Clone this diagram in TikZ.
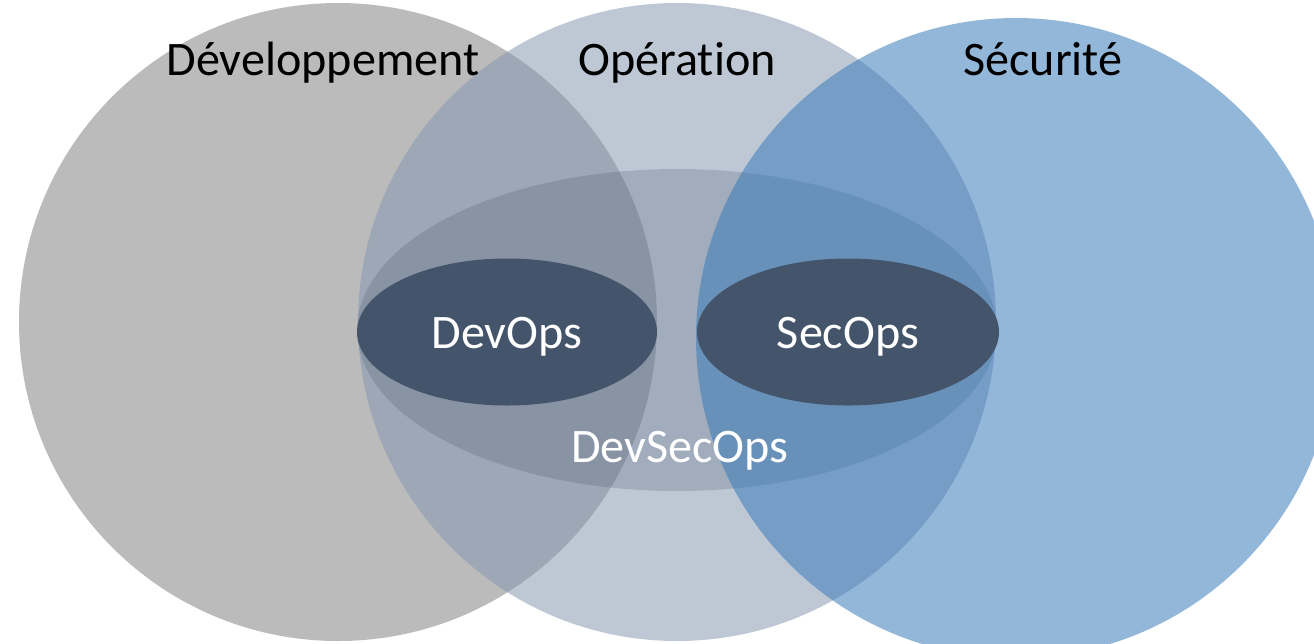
\documentclass[tikz,border=0pt]{standalone}
\usepackage{fontspec}
\setmainfont[Ligatures=NoCommon]{Carlito}
\definecolor{devgray}{HTML}{BBBBBB}
\definecolor{opgray}{HTML}{8497B0}
\definecolor{secblue}{HTML}{3A7BBA}
\definecolor{opsdark}{HTML}{44546A}
\tikzset{
  areaname/.style={font=\fontsize{27.4}{32}\selectfont,anchor=base,inner sep=0pt,text=black},
  opsname/.style={font=\fontsize{27.4}{32}\selectfont,anchor=base,inner sep=0pt,text=white}
}
\begin{document}
\begin{tikzpicture}[x=0.02cm,y=-0.02cm]
\useasboundingbox (0,0) rectangle (1314,643);
\clip (0,0) rectangle (1314,643);
% the three domains
\fill[devgray] (338,322) circle (319);
\fill[opgray,opacity=0.53] (677,322) circle (319);
% DevSecOps band
\fill[opsdark,opacity=0.23] (677,330) ellipse (320 and 161);
\fill[secblue,opacity=0.55] (1016,338) circle (320);
% DevOps and SecOps
\fill[opsdark] (507,332) ellipse (150 and 73.5);
\fill[opsdark] (848,332) ellipse (151 and 73.5);
\node[areaname] (dev) at (323,75) {Développement};
\node[areaname] (op) at (677,75) {Opération};
\node[areaname] (sec) at (1043,75) {Sécurité};
\node[opsname] (devops) at (507,348) {DevOps};
\node[opsname] (secops) at (848,348) {SecOps};
\node[opsname] (devsecops) at (680,462) {DevSecOps};
\end{tikzpicture}
\end{document}
